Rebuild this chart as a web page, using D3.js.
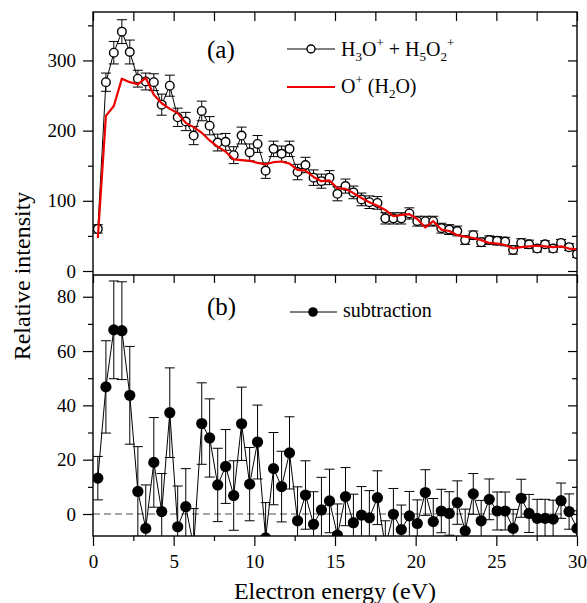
<!DOCTYPE html>
<html>
<head>
<meta charset="utf-8">
<script src="https://cdn.jsdelivr.net/npm/d3@7"></script>
<style>
  html, body { margin: 0; padding: 0; background: #fff; }
  svg { display: block; }
  svg text { font-family: "Liberation Serif", "Times New Roman", serif !important; fill: #000; }
</style>
</head>
<body>
<svg id="chart" width="587" height="603"></svg>
<script>
// ---------------- data ----------------
const energy = [0.3,0.8,1.29,1.79,2.28,2.78,3.27,3.77,4.26,4.76,
  5.25,5.75,6.24,6.74,7.23,7.73,8.22,8.72,9.21,9.71,
  10.2,10.7,11.19,11.69,12.18,12.68,13.17,13.67,14.16,14.66,
  15.15,15.65,16.14,16.64,17.13,17.63,18.12,18.62,19.11,19.61,
  20.1,20.6,21.09,21.59,22.08,22.58,23.07,23.57,24.06,24.56,
  25.05,25.55,26.04,26.54,27.03,27.53,28.02,28.52,29.01,29.51,30.0];

// H3O+ + H5O2+ (open circles)
const hydronium = [60,269,311,341,312,274,270,269,237,264,
  219,213,193,228,207,183,184,165,193,169,
  181,143,174,167,174,141,151,133,128,133,
  110,121,112,102,98,97,75,75,75,82,
  71,71,71,61,59,57,44,51,41,44,
  43,42,30,40,38,32,38,32,40,34,24];
const hydroniumErr = [6,13,16,17,17,12,12,12,15,15,
  13,13,13,14,13,12,12,12,12,12,
  12,11,11,11,11,11,11,11,10,10,
  10,10,9,9,9,9,8,8,8,8,
  7,7,7,7,7,7,6,6,6,6,
  6,6,6,6,6,5,5,5,5,5,5];

// O+ (H2O) red line
const oxygenIon = [47,221,235,274,269,266,275,251,239,231,
  225,211,205,197,186,177,170,159,158,157,
  154,152,155,156,153,144,143,134,128,129,
  118,117,111,104,98,93,87,78,80,81,
  74,62,71,59,57,51,49,47,44,40,
  39,37,32,34,35,36,35,34,35,32,31];

// subtraction (filled circles)
const subtraction = [13.2,46.8,67.8,67.5,43.7,8.3,-5.3,19,0.9,37.3,
  -4.7,2.7,-12,33.3,28,10.7,17.5,6.8,33.2,11,
  26.5,-8.8,16.7,10.1,22.5,-2.5,7,-3.8,1.5,4.8,
  -7.8,6.4,-3.2,-0.4,-1.4,6,-12,-0.1,-5.7,-0.7,
  -3.5,7.9,-2.8,1.1,0.2,4.2,-6.2,7.4,-2.5,5.4,
  1.1,1.1,-5.3,5.8,0.2,-1.6,-1.6,-1.9,4.9,0.9,-5.3];
const subtractionErr = [8,17,18,18,18,16.5,16,16.5,14,16.5,
  15,14,14,15,14.4,13.5,13.6,12.8,13.5,13.5,
  13.6,13,13.3,13,13.3,12.5,12.6,12,12,11.7,
  11.5,10.7,10.5,10.5,10,9.9,9.5,9.5,9,9,
  8.7,8.4,8.5,8,8,8,8,7.5,7.5,7.5,
  7,7,7,7,7,7,7,7,6.5,6.5,6.5];

const xMajor = [0,5,10,15,20,25,30];
const xMinor = [2.5,7.5,12.5,17.5,22.5,27.5];
const yTopMajor = [0,100,200,300];
const yTopMinor = [50,150,250,350];
const yBotMajor = [0,20,40,60,80];
const yBotMinor = [10,30,50,70];

// ---------------- layout ----------------
const FONT = '"Liberation Serif", "Times New Roman", serif';
const L = 93, R = 577, T = 12, MID = 275, B = 536;
const svg = d3.select("#chart");
svg.append("rect").attr("width",587).attr("height",603).attr("fill","#fff");

const x = d3.scaleLinear().domain([0,30]).range([L,R]);
const yTop = d3.scaleLinear().domain([-5.7,369]).range([MID,T]);
const yBot = d3.scaleLinear().domain([-8.1,88]).range([B,MID]);

const defs = svg.append("defs");
defs.append("clipPath").attr("id","clipTop").append("rect")
  .attr("x",L).attr("y",T).attr("width",R-L).attr("height",MID-T);
defs.append("clipPath").attr("id","clipBot").append("rect")
  .attr("x",L).attr("y",MID).attr("width",R-L).attr("height",B-MID);

const pts = energy.map((e,i)=>({e, h:hydronium[i], he:hydroniumErr[i], o:oxygenIon[i], s:subtraction[i], se:subtractionErr[i]}));

// ---------------- axes ----------------
function addAxis(axis, tx, ty){
  const g = svg.append("g").attr("transform",`translate(${tx},${ty})`).call(axis);
  g.attr("font-family", FONT).attr("font-size", 19);
  g.select(".domain").remove();
  g.selectAll("line").attr("stroke","#000").attr("stroke-width",1.2);
  g.selectAll("text").style("font-family", FONT).style("font-size","19px").attr("fill","#000");
  return g;
}
// top panel
addAxis(d3.axisLeft(yTop).tickValues(yTopMajor).tickSize(10).tickPadding(7).tickFormat(d3.format("d")), L, 0);
addAxis(d3.axisLeft(yTop).tickValues(yTopMinor).tickSize(5).tickFormat(""), L, 0);
addAxis(d3.axisRight(yTop).tickValues(yTopMajor).tickSize(-9).tickFormat(""), R, 0);
addAxis(d3.axisRight(yTop).tickValues(yTopMinor).tickSize(-5).tickFormat(""), R, 0);
addAxis(d3.axisTop(x).tickValues(xMajor.concat(xMinor)).tickSize(-9).tickFormat(""), 0, T);
// bottom panel
addAxis(d3.axisLeft(yBot).tickValues(yBotMajor).tickSize(10).tickPadding(7).tickFormat(d3.format("d")), L, 0);
addAxis(d3.axisLeft(yBot).tickValues(yBotMinor).tickSize(5).tickFormat(""), L, 0);
addAxis(d3.axisRight(yBot).tickValues(yBotMajor).tickSize(-9).tickFormat(""), R, 0);
addAxis(d3.axisRight(yBot).tickValues(yBotMinor).tickSize(-5).tickFormat(""), R, 0);
addAxis(d3.axisTop(x).tickValues(xMajor.concat(xMinor)).tickSize(-8).tickFormat(""), 0, MID);
addAxis(d3.axisBottom(x).tickValues(xMajor).tickSize(10).tickPadding(9).tickFormat(d3.format("d")), 0, B);
addAxis(d3.axisBottom(x).tickValues(xMinor).tickSize(5).tickFormat(""), 0, B);

// ---------------- top panel data ----------------
const gT = svg.append("g").attr("clip-path","url(#clipTop)");
gT.append("path").datum(pts)
  .attr("d", d3.line().x(d=>x(d.e)).y(d=>yTop(d.h)))
  .attr("fill","none").attr("stroke","#000").attr("stroke-width",1);
const ebT = gT.append("g").attr("stroke","#000").attr("stroke-width",1);
pts.forEach(d=>{
  const cx = x(d.e), y1 = yTop(d.h + d.he), y2 = yTop(d.h - d.he);
  ebT.append("line").attr("x1",cx).attr("x2",cx).attr("y1",y1).attr("y2",y2);
  ebT.append("line").attr("x1",cx-5).attr("x2",cx+5).attr("y1",y1).attr("y2",y1);
  ebT.append("line").attr("x1",cx-5).attr("x2",cx+5).attr("y1",y2).attr("y2",y2);
});
gT.selectAll("circle.h").data(pts).enter().append("circle")
  .attr("cx",d=>x(d.e)).attr("cy",d=>yTop(d.h)).attr("r",4.3)
  .attr("fill","#fff").attr("stroke","#000").attr("stroke-width",1.4);
gT.append("path").datum(pts)
  .attr("d", d3.line().x(d=>x(d.e)).y(d=>yTop(d.o)))
  .attr("fill","none").attr("stroke","#ee0000").attr("stroke-width",2.2).attr("stroke-linejoin","round");

// ---------------- bottom panel data ----------------
const gB = svg.append("g").attr("clip-path","url(#clipBot)");
gB.append("line").attr("x1",L).attr("x2",R).attr("y1",yBot(0)).attr("y2",yBot(0))
  .attr("stroke","#888").attr("stroke-width",1.6).attr("stroke-dasharray","7,4");
gB.append("path").datum(pts)
  .attr("d", d3.line().x(d=>x(d.e)).y(d=>yBot(d.s)))
  .attr("fill","none").attr("stroke","#000").attr("stroke-width",1);
const ebB = gB.append("g").attr("stroke","#000").attr("stroke-width",1);
pts.forEach(d=>{
  const cx = x(d.e), y1 = yBot(d.s + d.se), y2 = yBot(d.s - d.se);
  ebB.append("line").attr("x1",cx).attr("x2",cx).attr("y1",y1).attr("y2",y2);
  ebB.append("line").attr("x1",cx-5).attr("x2",cx+5).attr("y1",y1).attr("y2",y1);
  ebB.append("line").attr("x1",cx-5).attr("x2",cx+5).attr("y1",y2).attr("y2",y2);
});
gB.selectAll("circle.s").data(pts).enter().append("circle")
  .attr("cx",d=>x(d.e)).attr("cy",d=>yBot(d.s)).attr("r",5.6).attr("fill","#000");

// ---------------- frames ----------------
svg.append("rect").attr("x",L).attr("y",T).attr("width",R-L).attr("height",B-T)
  .attr("fill","none").attr("stroke","#000").attr("stroke-width",1.4);
svg.append("line").attr("x1",L).attr("x2",R).attr("y1",MID).attr("y2",MID)
  .attr("stroke","#000").attr("stroke-width",1.4);

// ---------------- labels & legends ----------------
function txt(sel){ return sel.style("font-family", FONT).attr("fill","#000"); }
txt(svg.append("text")).attr("x",207).attr("y",58).style("font-size","25px").text("(a)");
txt(svg.append("text")).attr("x",207).attr("y",315).style("font-size","25px").text("(b)");

// legend (a)
svg.append("line").attr("x1",287).attr("x2",335).attr("y1",49).attr("y2",49).attr("stroke","#000").attr("stroke-width",1);
svg.append("circle").attr("cx",311).attr("cy",49).attr("r",4).attr("fill","#fff").attr("stroke","#000").attr("stroke-width",1.4);
const t1 = txt(svg.append("text")).attr("x",341).attr("y",56).style("font-size","20px");
t1.append("tspan").text("H");
t1.append("tspan").attr("dy",5).style("font-size","13px").text("3");
t1.append("tspan").attr("dy",-5).text("O");
t1.append("tspan").attr("dy",-9).style("font-size","13px").text("+");
t1.append("tspan").attr("dy",9).text(" + H");
t1.append("tspan").attr("dy",5).style("font-size","13px").text("5");
t1.append("tspan").attr("dy",-5).text("O");
t1.append("tspan").attr("dy",5).style("font-size","13px").text("2");
t1.append("tspan").attr("dy",-14).style("font-size","13px").text("+");

svg.append("line").attr("x1",287).attr("x2",335).attr("y1",87).attr("y2",87).attr("stroke","#ee0000").attr("stroke-width",2.2);
const t2 = txt(svg.append("text")).attr("x",341).attr("y",93).style("font-size","20px");
t2.append("tspan").text("O");
t2.append("tspan").attr("dy",-9).style("font-size","13px").text("+");
t2.append("tspan").attr("dy",9).text(" (H");
t2.append("tspan").attr("dy",5).style("font-size","13px").text("2");
t2.append("tspan").attr("dy",-5).text("O)");

// legend (b)
svg.append("line").attr("x1",290).attr("x2",337).attr("y1",312).attr("y2",312).attr("stroke","#000").attr("stroke-width",1);
svg.append("circle").attr("cx",313).attr("cy",312).attr("r",4.8).attr("fill","#000");
txt(svg.append("text")).attr("x",343).attr("y",317).style("font-size","20px").text("subtraction");

// axis titles
txt(svg.append("text")).attr("transform","translate(30,276) rotate(-90)")
  .attr("text-anchor","middle").style("font-size","24px").text("Relative intensity");
txt(svg.append("text")).attr("x",335).attr("y",599)
  .attr("text-anchor","middle").style("font-size","24px").text("Electron energy (eV)");
</script>
</body>
</html>
